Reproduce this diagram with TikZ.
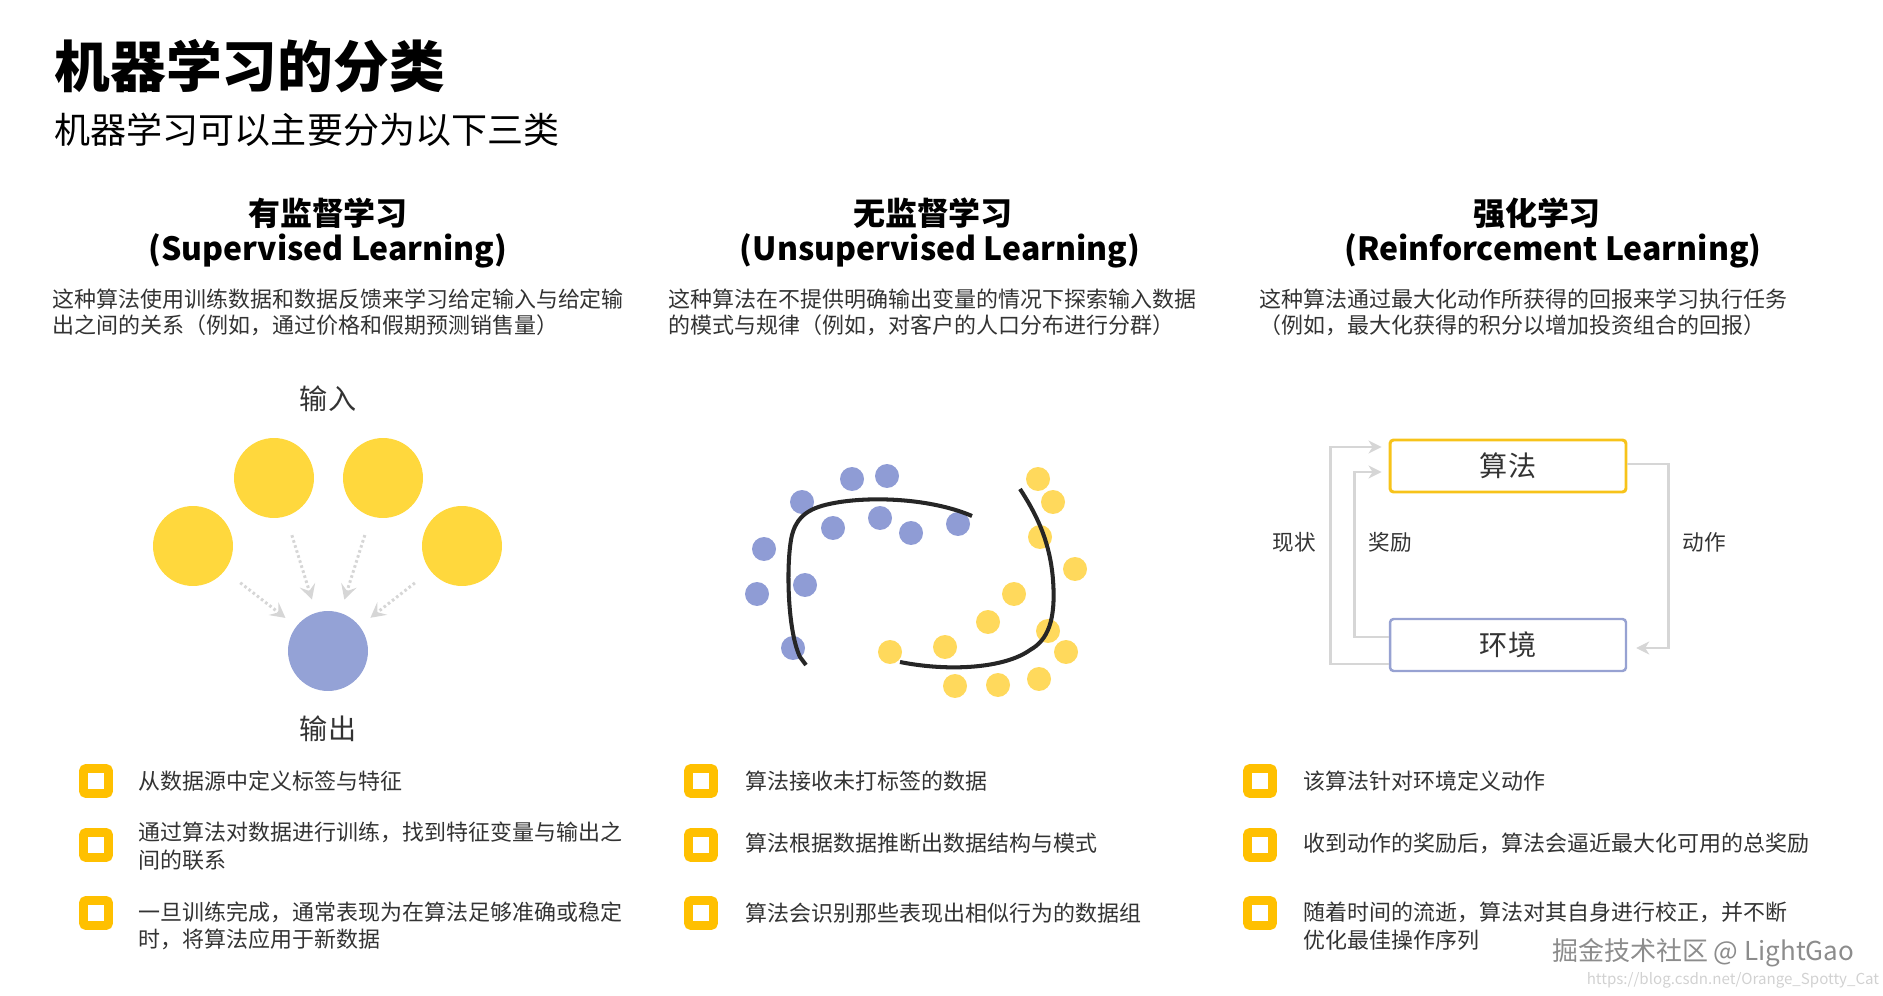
\documentclass[tikz,border=0pt]{standalone}
\usepackage{fontspec}
\setmainfont{Noto Sans CJK SC}
\usetikzlibrary{arrows.meta, positioning, calc}
\definecolor{cyellow}{HTML}{FFC000}
\definecolor{cgold}{HTML}{FFD83D}
\definecolor{cdotyel}{HTML}{FFD95C}
\definecolor{cblue}{HTML}{94A2D6}
\definecolor{cdotblue}{HTML}{8F9CD5}
\definecolor{cboxyel}{HTML}{F7C31A}
\definecolor{cboxblue}{HTML}{97A2D2}
\definecolor{ctext}{HTML}{333333}
\definecolor{clight}{HTML}{D6D6D6}
\definecolor{cmark}{HTML}{8C8C8C}
\newcommand{\fsz}[2]{\fontsize{#1pt}{#2pt}\selectfont}
\tikzset{
  every picture/.style={line width=1pt},
  title/.style={font=\bfseries\fsz{31.7}{36}, anchor=west, inner sep=0pt},
  subtitle/.style={font=\fsz{20.5}{24}, anchor=west, inner sep=0pt},
  head/.style={font=\bfseries\fsz{18.2}{21.6}, inner sep=0pt},
  desc/.style={font=\fsz{12.5}{14.8}, text=ctext, align=left, anchor=west, inner sep=0pt},
  itemtext/.style={font=\fsz{12.5}{15.6}, text=ctext, align=left, anchor=west, inner sep=0pt},
  itembox/.style={draw=cyellow, fill=white, line width=5pt, minimum size=0.5cm, rounded corners=1.5pt, inner sep=0pt},
}

\begin{document}
\begin{tikzpicture}[x=0.02cm, y=-0.02cm,
    incirc/.style={circle, fill=cgold, minimum size=1.6cm, inner sep=0pt},
    outcirc/.style={circle, fill=cblue, minimum size=1.6cm, inner sep=0pt},
    ioname/.style={font=\fsz{16}{19}, text=ctext},
    feed/.style={draw=clight, line width=1.7pt, dash pattern=on 1.5pt off 1.5pt,
      -{Stealth[length=0.3cm, width=0.32cm, inset=0.12cm]}, shorten <=0.38cm, shorten >=0.26cm},
    split/.style={line width=2.3pt, draw=black!85},
    algbox/.style={draw=cboxyel, line width=1.7pt, rounded corners=2pt, minimum width=4.72cm,
      minimum height=1.04cm, font=\fsz{16}{19}, text=ctext},
    envbox/.style={algbox, draw=cboxblue, line width=1.4pt},
    loopl/.style={draw=clight, line width=1.6pt, -{Stealth[length=0.26cm, width=0.26cm, inset=0.08cm]}},
    rlname/.style={font=\fsz{12.3}{15}, text=ctext},
    wmark/.style={font=\fsz{14.8}{17}, text=cmark, anchor=east, inner sep=0pt},
  ]
  \useasboundingbox (0,0) rectangle (1883,996);

  \node[title] (title) at (54,66) {机器学习的分类};
  \node[subtitle] (sub) at (54,130) {机器学习可以主要分为以下三类};

  % column heads
  \node[head] (h1) at (328,213) {有监督学习};
  \node[head] (h1en) at (328,251) {(Supervised Learning)};
  \node[head] (h2) at (933,213) {无监督学习};
  \node[head] (h2en) at (940,251) {(Unsupervised Learning)};
  \node[head] (h3) at (1537,213) {强化学习};
  \node[head] (h3en) at (1553,251) {(Reinforcement Learning)};
  \node[desc] (d1) at (52,312) {这种算法使用训练数据和数据反馈来学习给定输入与给定输\\出之间的关系（例如，通过价格和假期预测销售量）};
  \node[desc] (d2) at (668,312) {这种算法在不提供明确输出变量的情况下探索输入数据\\的模式与规律（例如，对客户的人口分布进行分群）};
  \node[desc] (d3) at (1259,312) {这种算法通过最大化动作所获得的回报来学习执行任务\\（例如，最大化获得的积分以增加投资组合的回报）};

  % supervised
  \node[ioname] (in) at (328,399) {输入};
  \node[incirc] (i1) at (193,546) {};
  \node[incirc] (i2) at (274,478) {};
  \node[incirc] (i3) at (383,478) {};
  \node[incirc] (i4) at (462,546) {};
  \node[outcirc] (out) at (328,651) {};
  \node[ioname] (outname) at (328,729) {输出};
  \foreach \s in {i1, i2, i3, i4} \draw[feed] (\s) -- (out);

  % unsupervised
  \foreach \x/\y in {852/479, 887/476, 802/502, 833/528, 880/518, 911/533, 958/524, 764/549, 805/585, 757/594, 793/648}
    \fill[cdotblue] (\x,\y) circle[radius=0.24cm];
  \foreach \x/\y in {1038/479, 1053/502, 1040/537, 1075/569, 1014/594, 988/622, 1048/631, 1066/652, 945/647, 890/652, 955/686, 998/685, 1039/679}
    \fill[cdotyel] (\x,\y) circle[radius=0.24cm];
  \draw[split] (806,665) -- (800,657) .. controls (787,630) and (786,560) .. (792,535)
    .. controls (798,512) and (815,506) .. (840,502) .. controls (880,496) and (935,500) .. (972,516);
  \draw[split] (1020,489) .. controls (1035,512) and (1050,540) .. (1053,580)
    .. controls (1056,620) and (1048,640) .. (1030,650) .. controls (1005,668) and (950,672) .. (900,662);

  % reinforcement
  \node[algbox] (alg) at (1508,466) {算法};
  \node[envbox] (env) at (1508,645) {环境};
  \draw[loopl] ($(env.west)+(0,19)$) -- ++(-58,0) |- ($(alg.west)+(-7,-19)$);
  \draw[loopl] ($(env.west)+(0,-8)$) -- ++(-34,0) |- ($(alg.west)+(-7,6)$);
  \draw[loopl] ($(alg.east)+(0,-2)$) -- ++(41,0) |- ($(env.east)+(9,3)$);
  \node[rlname] (state) at (1294,542) {现状};
  \node[rlname] (reward) at (1390,542) {奖励};
  \node[rlname] (action) at (1704,542) {动作};

  % bullet lists
  \node[itembox] (b11) at (96,781) {};
  \node[itembox] (b12) at (96,845) {};
  \node[itembox] (b13) at (96,913) {};
  \node[itemtext] (t11) at (138,781) {从数据源中定义标签与特征};
  \node[itemtext] (t12) at (138,846) {通过算法对数据进行训练，找到特征变量与输出之\\间的联系};
  \node[itemtext] (t13) at (138,926) {一旦训练完成，通常表现为在算法足够准确或稳定\\时，将算法应用于新数据};
  \node[itembox] (b21) at (701,781) {};
  \node[itembox] (b22) at (701,845) {};
  \node[itembox] (b23) at (701,913) {};
  \node[itemtext] (t21) at (745,781) {算法接收未打标签的数据};
  \node[itemtext] (t22) at (745,843) {算法根据数据推断出数据结构与模式};
  \node[itemtext] (t23) at (745,913) {算法会识别那些表现出相似行为的数据组};
  \node[itembox] (b31) at (1260,781) {};
  \node[itembox] (b32) at (1260,845) {};
  \node[itembox] (b33) at (1260,913) {};
  \node[itemtext] (t31) at (1303,781) {该算法针对环境定义动作};
  \node[itemtext] (t32) at (1303,843) {收到动作的奖励后，算法会逼近最大化可用的总奖励};
  \node[itemtext] (t33) at (1303,926) {随着时间的流逝，算法对其自身进行校正，并不断\\优化最佳操作序列};

  \node[wmark] (wm) at (1855,953) {掘金技术社区 @ LightGao};
  \node[wmark, font=\fsz{8.6}{10}, text=black!18] (url) at (1880,980) {https://blog.csdn.net/Orange\_Spotty\_Cat};
\end{tikzpicture}
\end{document}
